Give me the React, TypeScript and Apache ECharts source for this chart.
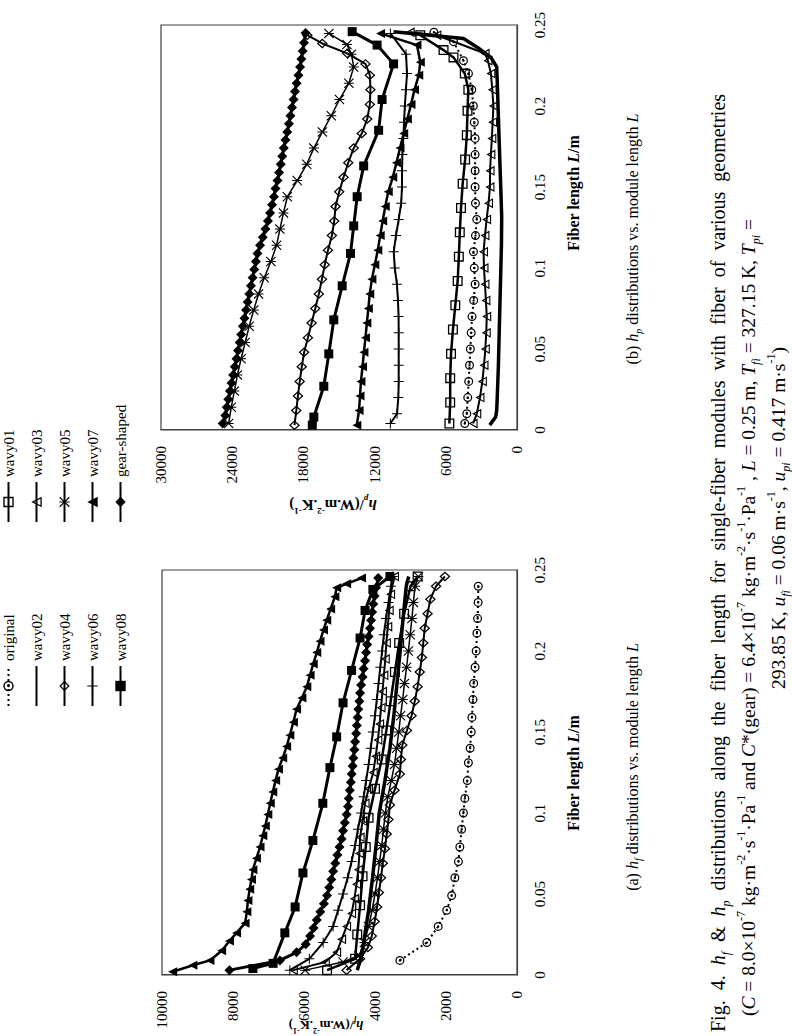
import React, { useEffect, useRef } from 'react';
import * as echarts from 'echarts';

const FONT = "'Liberation Serif', 'Times New Roman', serif";

// ---------- axis ticks ----------
const fiberTicks = [0, 0.05, 0.1, 0.15, 0.2, 0.25];
const hfTicks = [0, 2000, 4000, 6000, 8000, 10000];
const hpTicks = [0, 6000, 12000, 18000, 24000, 30000];

// ---------- legend ----------
const legendCol1 = ['original', 'wavy02', 'wavy04', 'wavy06', 'wavy08'];
const legendCol2 = ['wavy01', 'wavy03', 'wavy05', 'wavy07', 'gear-shaped'];
const seriesNames = ['original', 'wavy01', 'wavy02', 'wavy03', 'wavy04', 'wavy05', 'wavy06', 'wavy07', 'wavy08', 'gear-shaped'];

// ---------- (a) h_f vs fiber length [L (m), h_f] ----------
const aOriginal = [[0.009,3300],[0.02,2540],[0.03,2220],[0.04,1980],[0.049,1840],[0.06,1750],[0.07,1650],[0.079,1610],[0.09,1560],[0.1,1510],[0.109,1470],[0.12,1400],[0.131,1370],[0.14,1320],[0.15,1290],[0.159,1270],[0.17,1240],[0.18,1220],[0.19,1180],[0.2,1150],[0.211,1130],[0.22,1110],[0.23,1095],[0.24,1090]];
const aWavy01 = [[0.003,5350],[0.01,4560],[0.025,4500],[0.043,4420],[0.061,4350],[0.079,4260],[0.097,4180],[0.115,4000],[0.133,3810],[0.151,3680],[0.169,3560],[0.187,3440],[0.205,3320],[0.223,3180],[0.24,3000],[0.246,2800]];
const aWavy02 = [[0.003,4500],[0.01,4400],[0.02,4320],[0.04,4180],[0.06,4070],[0.08,3970],[0.1,3880],[0.12,3720],[0.14,3580],[0.16,3470],[0.18,3380],[0.2,3290],[0.22,3210],[0.24,3120],[0.246,3050]];
const aWavy03 = [[0.003,6300],[0.008,5400],[0.014,5080],[0.022,4940],[0.03,4800],[0.038,4660],[0.047,4580],[0.056,4520],[0.065,4470],[0.075,4440],[0.085,4420],[0.095,4350],[0.106,4280],[0.115,4180],[0.125,4050],[0.135,3980],[0.145,3920],[0.155,3870],[0.165,3830],[0.175,3790],[0.185,3750],[0.195,3710],[0.205,3680],[0.215,3640],[0.225,3600],[0.235,3560],[0.246,3450]];
const aWavy04 = [[0.003,4800],[0.01,4420],[0.017,4200],[0.024,4090],[0.033,4010],[0.042,3940],[0.051,3890],[0.06,3830],[0.069,3780],[0.078,3720],[0.087,3670],[0.096,3620],[0.105,3580],[0.114,3450],[0.124,3300],[0.133,3270],[0.142,3230],[0.151,3100],[0.16,2970],[0.169,2880],[0.178,2800],[0.187,2740],[0.196,2680],[0.205,2640],[0.214,2600],[0.223,2520],[0.232,2440],[0.24,2280],[0.246,2030]];
const aWavy05 = [[0.003,5970],[0.008,4900],[0.012,4450],[0.02,4300],[0.03,4180],[0.04,4080],[0.05,4000],[0.06,3930],[0.07,3870],[0.08,3810],[0.09,3760],[0.1,3710],[0.11,3640],[0.12,3540],[0.13,3450],[0.14,3390],[0.15,3330],[0.16,3280],[0.17,3220],[0.18,3170],[0.19,3110],[0.2,3060],[0.21,3010],[0.22,2960],[0.23,2920],[0.24,2870],[0.246,2780]];
const aWavy06 = [[0.003,6400],[0.01,5850],[0.02,5460],[0.03,5180],[0.04,5040],[0.05,4900],[0.06,4770],[0.07,4660],[0.08,4560],[0.09,4480],[0.1,4390],[0.11,4320],[0.12,4250],[0.13,4180],[0.14,4120],[0.15,4060],[0.16,4000],[0.17,3950],[0.18,3900],[0.19,3850],[0.2,3800],[0.21,3750],[0.22,3690],[0.23,3620],[0.24,3550],[0.246,3500]];
const aWavy07 = [[0.002,9700],[0.006,9130],[0.009,8650],[0.015,8320],[0.021,8100],[0.026,7900],[0.032,7660],[0.039,7610],[0.046,7580],[0.053,7530],[0.059,7480],[0.065,7440],[0.072,7340],[0.079,7240],[0.086,7160],[0.092,7090],[0.099,7020],[0.106,6950],[0.113,6880],[0.12,6800],[0.127,6720],[0.134,6600],[0.141,6490],[0.148,6400],[0.156,6300],[0.164,6210],[0.171,6060],[0.178,5920],[0.185,5830],[0.192,5740],[0.199,5640],[0.206,5550],[0.213,5450],[0.219,5360],[0.226,5250],[0.2335,5130],[0.239,5080],[0.2415,4800],[0.245,4380]];
const aWavy08 = [[0.004,7440],[0.0072,6870],[0.026,6540],[0.042,6250],[0.063,6030],[0.083,5750],[0.106,5470],[0.128,5270],[0.147,5080],[0.168,4900],[0.188,4660],[0.208,4420],[0.225,4280],[0.238,4060],[0.246,3580]];
const aGear = [[0.003,8100],[0.009,6680],[0.014,6210],[0.019,5950],[0.024,5830],[0.029,5730],[0.034,5640],[0.039,5540],[0.044,5440],[0.049,5350],[0.054,5290],[0.059,5230],[0.064,5180],[0.069,5120],[0.074,5060],[0.079,5000],[0.084,4940],[0.089,4900],[0.094,4850],[0.099,4800],[0.104,4760],[0.109,4740],[0.114,4710],[0.119,4680],[0.124,4656],[0.129,4630],[0.134,4610],[0.139,4580],[0.144,4560],[0.149,4530],[0.154,4510],[0.159,4490],[0.164,4470],[0.169,4440],[0.174,4420],[0.179,4390],[0.184,4350],[0.189,4320],[0.194,4280],[0.199,4250],[0.204,4220],[0.209,4180],[0.214,4140],[0.219,4110],[0.224,4080],[0.229,4050],[0.234,4010],[0.239,3970],[0.245,3910]];

// ---------- (b) h_p vs fiber length [L (m), h_p] ----------
const bOriginal = [[0.004,4400],[0.01,4230],[0.02,4150],[0.03,4070],[0.04,4000],[0.05,3930],[0.06,3860],[0.07,3790],[0.08,3650],[0.09,3530],[0.1,3600],[0.11,3670],[0.12,3500],[0.13,3390],[0.14,3500],[0.15,3530],[0.16,3530],[0.17,3530],[0.18,3530],[0.19,3600],[0.2,3680],[0.21,3810],[0.22,4090],[0.228,4510],[0.2397,5350],[0.2455,7000]];
const bWavy01 = [[0.004,5700],[0.017,5630],[0.032,5630],[0.047,5560],[0.062,5400],[0.077,5200],[0.092,5000],[0.107,4900],[0.122,4820],[0.137,4720],[0.152,4580],[0.167,4370],[0.182,4230],[0.197,4170],[0.21,4100],[0.22,4400],[0.23,5350],[0.2345,6190],[0.2437,8150]];
const bWavy02 = [[0.003,2300],[0.008,1800],[0.012,1710],[0.025,1640],[0.039,1570],[0.06,1500],[0.08,1430],[0.1,1360],[0.115,1310],[0.1316,1290],[0.148,1360],[0.1625,1430],[0.178,1500],[0.1933,1570],[0.21,1640],[0.2242,1710],[0.23,2200],[0.236,3300],[0.2417,4510],[0.2437,7310],[0.2459,10400]];
const bWavy03 = [[0.004,3700],[0.01,3390],[0.02,3120],[0.03,2920],[0.04,2780],[0.05,2670],[0.06,2590],[0.07,2550],[0.08,2620],[0.09,2700],[0.1,2780],[0.11,2820],[0.12,2700],[0.13,2560],[0.14,2400],[0.15,2280],[0.16,2270],[0.17,2200],[0.18,2120],[0.19,2050],[0.2,1990],[0.21,2080],[0.22,2200],[0.228,2450],[0.2324,2690],[0.2437,6750],[0.2455,9000]];
const bWavy04 = [[0.003,18750],[0.012,18600],[0.021,18460],[0.03,18310],[0.039,18140],[0.048,17940],[0.057,17620],[0.066,17310],[0.075,17000],[0.084,16700],[0.093,16440],[0.102,16200],[0.111,15930],[0.12,15600],[0.129,15400],[0.138,15290],[0.147,14980],[0.156,14620],[0.165,14220],[0.174,13760],[0.183,13080],[0.192,12620],[0.201,12400],[0.21,12350],[0.219,12400],[0.226,12770],[0.2325,14310],[0.2386,16410],[0.2437,17670]];
const bWavy05 = [[0.004,24300],[0.014,24080],[0.024,23820],[0.034,23560],[0.044,23250],[0.054,22910],[0.064,22570],[0.074,22190],[0.084,21780],[0.094,21300],[0.104,20740],[0.114,20260],[0.124,19980],[0.134,19680],[0.144,19350],[0.154,18520],[0.164,17720],[0.174,17120],[0.184,16400],[0.194,15650],[0.204,14960],[0.214,14170],[0.224,13760],[0.232,13950],[0.238,14330],[0.2448,15850]];
const bWavy06 = [[0.004,10670],[0.01,10110],[0.02,10000],[0.03,9970],[0.04,9970],[0.05,9970],[0.06,9970],[0.07,9980],[0.08,10030],[0.09,10120],[0.1,10300],[0.11,10390],[0.12,10200],[0.13,9970],[0.14,9760],[0.15,9690],[0.16,9690],[0.17,9660],[0.18,9580],[0.19,9520],[0.2,9450],[0.21,9360],[0.22,9270],[0.232,9350],[0.2448,10670]];
const bWavy07 = [[0.003,13500],[0.012,13310],[0.021,13230],[0.03,13150],[0.039,13020],[0.048,12900],[0.057,12770],[0.066,12650],[0.075,12530],[0.084,12410],[0.093,12230],[0.102,11980],[0.111,11730],[0.12,11530],[0.129,11320],[0.138,11100],[0.147,10850],[0.156,10470],[0.165,10160],[0.174,9860],[0.183,9550],[0.192,9240],[0.201,8930],[0.21,8640],[0.219,8280],[0.227,8150],[0.2376,8430],[0.2448,11500]];
const bWavy08 = [[0.003,17250],[0.008,17120],[0.027,16280],[0.047,15860],[0.068,15440],[0.089,14730],[0.109,14030],[0.126,13760],[0.144,13470],[0.163,12920],[0.185,11660],[0.204,11370],[0.226,10400],[0.2376,11790],[0.2459,13890]];
const bGear = [[0.004,24800],[0.009,24580],[0.014,24460],[0.019,24330],[0.024,24190],[0.029,24060],[0.034,23920],[0.039,23780],[0.044,23640],[0.049,23510],[0.054,23370],[0.059,23240],[0.064,23100],[0.069,22970],[0.074,22830],[0.079,22700],[0.084,22560],[0.089,22420],[0.094,22280],[0.099,22140],[0.104,22000],[0.109,21870],[0.114,21650],[0.119,21420],[0.124,21200],[0.129,20990],[0.134,20810],[0.139,20640],[0.144,20480],[0.149,20350],[0.154,20180],[0.159,20050],[0.164,19910],[0.169,19780],[0.174,19650],[0.179,19510],[0.184,19360],[0.189,19220],[0.194,19090],[0.199,18960],[0.204,18830],[0.209,18710],[0.214,18570],[0.219,18420],[0.224,18280],[0.229,18170],[0.234,18060],[0.239,17950],[0.245,17820]];

const plotA = [aOriginal, aWavy01, aWavy02, aWavy03, aWavy04, aWavy05, aWavy06, aWavy07, aWavy08, aGear];
const plotB = [bOriginal, bWavy01, bWavy02, bWavy03, bWavy04, bWavy05, bWavy06, bWavy07, bWavy08, bGear];

// ---------- marker shapes ----------
const RING_DOT = 'path://M0,10A10,10,0,1,1,20,10A10,10,0,1,1,0,10Z M2.8,10A7.2,7.2,0,1,0,17.2,10A7.2,7.2,0,1,0,2.8,10Z M7.4,10A2.6,2.6,0,1,1,12.6,10A2.6,2.6,0,1,1,7.4,10Z';
const SQ_HOLLOW = 'path://M0,0H20V20H0Z M2.6,2.6V17.4H17.4V2.6Z';
const TRI_HOLLOW = 'path://M10,0L20,18L0,18Z M10,4.8L3.8,15.8L16.2,15.8Z';
const DIA_HOLLOW = 'path://M10,0L20,10L10,20L0,10Z M10,3.4L3.4,10L10,16.6L16.6,10Z';
const ASTER = 'path://M1.6,0L10,8.4L18.4,0L20,1.6L11.6,10L20,18.4L18.4,20L10,11.6L1.6,20L0,18.4L8.4,10L0,1.6Z M9,0H11V20H9Z';
const PLUS = 'path://M9,0H11V9H20V11H11V20H9V11H0V9H9Z';

const STYLE: Record<string, { symbol: string; size: any; width: number; type?: any }> = {
  original: { symbol: RING_DOT, size: 9, width: 2, type: [2, 3] },
  wavy01: { symbol: SQ_HOLLOW, size: 10, width: 2.5 },
  wavy02: { symbol: 'none', size: 0, width: 3.5 },
  wavy03: { symbol: TRI_HOLLOW, size: [10, 9], width: 2 },
  wavy04: { symbol: DIA_HOLLOW, size: [10, 11], width: 2 },
  wavy05: { symbol: ASTER, size: 10, width: 1.5 },
  wavy06: { symbol: PLUS, size: 10, width: 2 },
  wavy07: { symbol: 'triangle', size: 9, width: 2.5 },
  wavy08: { symbol: 'rect', size: 9, width: 3 },
  'gear-shaped': { symbol: 'diamond', size: [10, 10], width: 3 },
};

const makeSeries = (sets: number[][][], idx: number) =>
  sets.map((data, k) => {
    const name = seriesNames[k];
    const st = STYLE[name];
    return {
      name,
      type: 'line',
      xAxisIndex: idx,
      yAxisIndex: idx,
      data,
      symbol: st.symbol,
      symbolSize: st.size,
      showSymbol: st.symbol !== 'none',
      lineStyle: { color: '#000', width: st.width, type: st.type || 'solid' },
      itemStyle: { color: name === 'wavy02' ? 'rgba(0,0,0,0)' : '#000', borderWidth: 0 },
      emphasis: { disabled: true },
      silent: true,
      z: 2 + k,
    };
  });

// ---------- rich text styles ----------
const richSet = (size: number, bold = false) => {
  const w = bold ? 'bold' : 'normal';
  const lh = Math.round(size * 1.4);
  const small = Math.round(size * 0.62);
  return {
    n: { fontFamily: FONT, fontSize: size, fontWeight: w, lineHeight: lh, fill: '#000' },
    i: { fontFamily: FONT, fontSize: size, fontWeight: w, fontStyle: 'italic', lineHeight: lh, fill: '#000' },
    sub: { fontFamily: FONT, fontSize: small, fontWeight: w, fontStyle: 'italic', verticalAlign: 'bottom', fill: '#000' },
    sup: { fontFamily: FONT, fontSize: small, fontWeight: w, verticalAlign: 'top', fill: '#000' },
  };
};

const textEl = (x: number, y: number, text: string, size: number, bold = false, rotation = 0, align = 'center') => ({
  type: 'text',
  x,
  y,
  rotation,
  silent: true,
  style: {
    text,
    align,
    verticalAlign: 'middle',
    fontFamily: FONT,
    fontSize: size,
    fill: '#000',
    rich: richSet(size, bold),
  },
});

const EN = '\u2002';
const xTitle = '{n|Fiber length }{i|L}{n|/m}';
const yTitleA = '{i|h}{sub|f}{n|/(W.m}{sup|-2}{n|.K}{sup|-1}{n|)}';
const yTitleB = '{i|h}{sub|p}{n|/(W.m}{sup|-2}{n|.K}{sup|-1}{n|)}';
const capA = '{n|(a) }{i|h}{sub|f}{n| distributions vs. module length }{i|L}';
const capB = '{n|(b) }{i|h}{sub|p}{n| distributions vs. module length }{i|L}';
const capLine1 = '{n|Fig. 4. }{i|h}{sub|f}{n| & }{i|h}{sub|p}{n| distributions along the fiber length for single-fiber modules with fiber of various geometries}'.replace(/ /g, EN);
const capLine2 = '{n|(}{i|C}{n| = 8.0×10}{sup|-7}{n| kg·m}{sup|-2}{n|·s}{sup|-1}{n|·Pa}{sup|-1}{n| and }{i|C}{n|*(gear) = 6.4×10}{sup|-7}{n| kg·m}{sup|-2}{n|·s}{sup|-1}{n|·Pa}{sup|-1}{n| , }{i|L}{n| = 0.25 m, }{i|T}{sub|fi}{n| = 327.15 K, }{i|T}{sub|pi}{n| =}';
const capLine3 = '{n|293.85 K, }{i|u}{sub|fi}{n| = 0.06 m·s}{sup|-1}{n|, }{i|u}{sub|pi}{n| = 0.417 m·s}{sup|-1}{n|)}';

const axisLabelStyle = { fontFamily: FONT, fontSize: 15, color: '#000' };
const axisLineStyle = { show: true, lineStyle: { color: '#404040', width: 1.2 } };
const fmt = (v: number) => String(Math.round(v * 1000) / 1000);

const xAxisCfg = (gridIndex: number) => ({
  type: 'value',
  gridIndex,
  min: fiberTicks[0],
  max: fiberTicks[fiberTicks.length - 1],
  interval: fiberTicks[1] - fiberTicks[0],
  axisLine: axisLineStyle,
  axisTick: { show: false },
  splitLine: { show: false },
  axisLabel: { ...axisLabelStyle, margin: 15, formatter: fmt },
});
const yAxisCfg = (gridIndex: number, ticks: number[]) => ({
  type: 'value',
  gridIndex,
  min: ticks[0],
  max: ticks[ticks.length - 1],
  interval: ticks[1] - ticks[0],
  axisLine: axisLineStyle,
  axisTick: { show: false },
  splitLine: { show: false },
  axisLabel: { ...axisLabelStyle, margin: 16, formatter: fmt },
});

const legendCfg = (data: string[], left: number) => ({
  data,
  orient: 'vertical',
  left,
  top: -4,
  itemWidth: 40,
  itemHeight: 13,
  itemGap: 13,
  selectedMode: false,
  textStyle: { fontFamily: FONT, fontSize: 15, color: '#000' },
});

const option: any = {
  animation: false,
  backgroundColor: '#fff',
  grid: [
    { left: 61, top: 162, width: 405, height: 355, show: true, borderColor: '#404040', borderWidth: 1.2, backgroundColor: 'transparent' },
    { left: 606, top: 161, width: 405, height: 356, show: true, borderColor: '#404040', borderWidth: 1.2, backgroundColor: 'transparent' },
  ],
  xAxis: [xAxisCfg(0), xAxisCfg(1)],
  yAxis: [yAxisCfg(0, hfTicks), yAxisCfg(1, hpTicks)],
  legend: [legendCfg(legendCol1, 324), legendCfg(legendCol2, 508)],
  series: [...makeSeries(plotA, 0), ...makeSeries(plotB, 1)],
  graphic: {
    elements: [
      textEl(263, 573, xTitle, 16, true),
      textEl(843, 573, xTitle, 16, true),
      textEl(11, 326, yTitleA, 13, true, Math.PI / 2),
      textEl(531, 333, yTitleB, 15, true, Math.PI / 2),
      textEl(269, 632, capA, 16),
      textEl(797, 632, capB, 16),
      textEl(4, 718, capLine1, 20, false, 0, 'left'),
      textEl(20, 748, capLine2, 19.5, false, 0, 'left'),
      textEl(518, 778, capLine3, 19.5),
    ],
  },
};

export default function App() {
  const ref = useRef<HTMLDivElement>(null);
  useEffect(() => {
    if (!ref.current) return;
    const chart = echarts.init(ref.current, null, { renderer: 'svg' });
    chart.setOption(option);
    return () => chart.dispose();
  }, []);
  return (
    <div style={{ position: 'fixed', left: 0, top: 0, width: 792, height: 1036, overflow: 'hidden', background: '#fff' }}>
      <div
        ref={ref}
        style={{
          position: 'absolute',
          left: 0,
          top: 0,
          width: 1036,
          height: 792,
          transformOrigin: '0 0',
          transform: 'translate(0px, 1036px) rotate(-90deg)',
        }}
      />
    </div>
  );
}
